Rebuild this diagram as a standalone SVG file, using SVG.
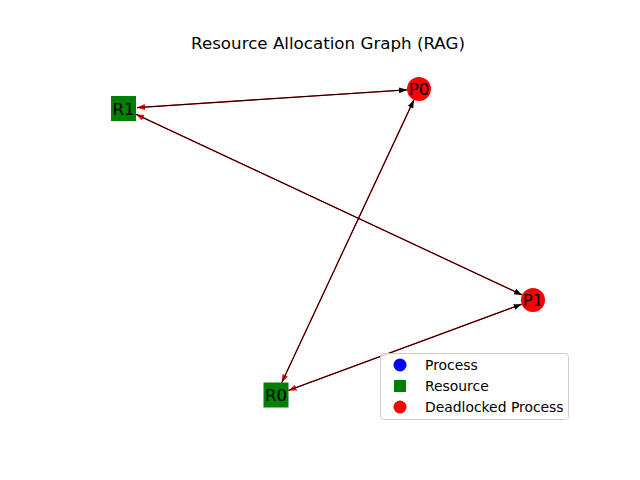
<svg xmlns="http://www.w3.org/2000/svg" width="640" height="480" viewBox="0 0 640 480">
<style>
text{font-family:"DejaVu Sans",sans-serif;fill:#000}
.lbl{font-size:16.7px;text-anchor:middle;dominant-baseline:central}
.res{fill:#008000}
.proc{fill:#ff0000}
.k{stroke:#000;stroke-width:1;fill:none;marker-end:url(#hk)}
.r{stroke:#ff0000;stroke-width:1.3;fill:none;marker-end:url(#hr)}
.leg{font-size:13.9px}
</style>
<defs>
<marker id="hk" markerUnits="userSpaceOnUse" markerWidth="10" markerHeight="8" refX="8" refY="3" orient="auto"><path d="M0,0 L8,3 L0,6 z" fill="#000"/></marker>
<marker id="hr" markerUnits="userSpaceOnUse" markerWidth="10" markerHeight="8" refX="8" refY="3" orient="auto"><path d="M0,0 L8,3 L0,6 z" fill="#ff0000"/></marker>
</defs>
<rect width="640" height="480" fill="#fff"/>
<text x="328" y="49" font-size="16.7" text-anchor="middle">Resource Allocation Graph (RAG)</text>
<g id="edges">
<path class="r" d="M407,89.8 L137,107.6"/>
<path class="r" d="M522.1,294.9 L136,114.3"/>
<path class="r" d="M413.9,99.9 L281.8,382.5"/>
<path class="r" d="M521.7,304.2 L288.5,390.4"/>
<path class="k" d="M137,107.6 L407,89.8"/>
<path class="k" d="M136,114.3 L522.1,294.9"/>
<path class="k" d="M281.8,382.5 L413.9,99.9"/>
<path class="k" d="M288.5,390.4 L521.7,304.2"/>
</g>
<g id="R1"><rect class="res" x="111" y="96" width="25" height="25"/><text class="lbl" x="123.5" y="108.5">R1</text></g>
<g id="R0"><rect class="res" x="263.5" y="382.5" width="25" height="25"/><text class="lbl" x="276" y="395">R0</text></g>
<g id="P0"><circle class="proc" cx="419" cy="89" r="12"/><text class="lbl" x="419" y="89">P0</text></g>
<g id="P1"><circle class="proc" cx="533" cy="300" r="12"/><text class="lbl" x="533" y="300">P1</text></g>
<g id="legend">
<rect x="380.5" y="353.5" width="188" height="66" rx="3" fill="#fff" fill-opacity="0.8" stroke="#ccc"/>
<circle cx="400" cy="365" r="6.5" fill="#0000ff"/>
<rect x="394" y="380" width="12" height="12" fill="#008000"/>
<circle cx="400" cy="407" r="6.5" fill="#ff0000"/>
<text class="leg" x="425" y="370">Process</text>
<text class="leg" x="425" y="391">Resource</text>
<text class="leg" x="425" y="412">Deadlocked Process</text>
</g>
</svg>
